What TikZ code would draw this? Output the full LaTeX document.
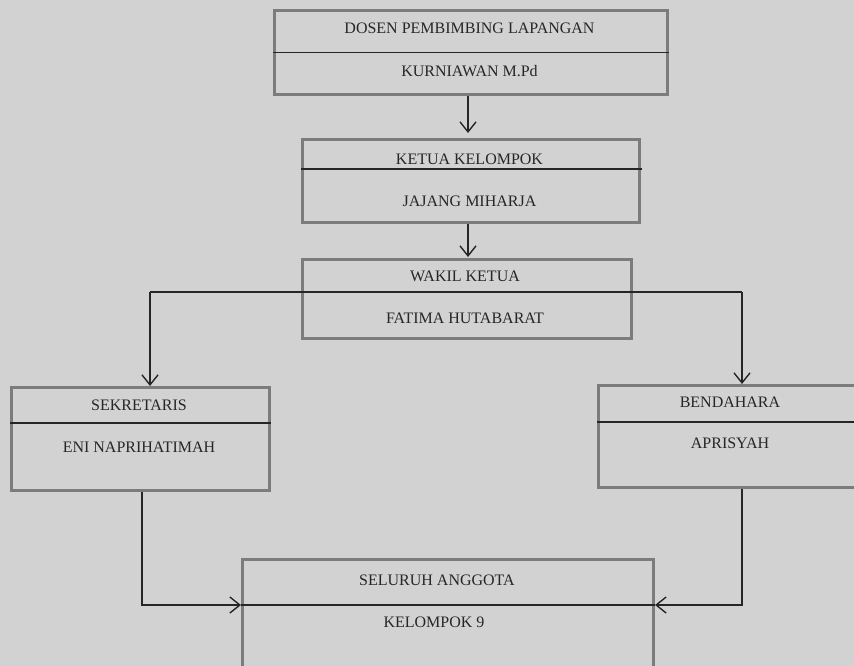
\documentclass[tikz,border=0pt]{standalone}
\usepackage{fontspec}
\setmainfont{Liberation Serif}
\usetikzlibrary{arrows.meta}
\definecolor{paper}{HTML}{D2D2D2}
\definecolor{frame}{HTML}{7C7C7C}
\definecolor{ink}{HTML}{262626}

\begin{document}
\begin{tikzpicture}[x=1pt, y=-1pt,
        box/.style={draw=frame, line width=3pt, inner sep=0pt, anchor=north west},
        lbl/.style={text=ink, font=\fontsize{16}{19}\selectfont, inner sep=0pt},
        conn/.style={draw=ink, line width=1.4pt},
        >={Straight Barb[length=10pt, width=16pt]}]

        \fill[paper] (0,0) rectangle (854,666);
        \clip (0,0) rectangle (854,666);

        \node[box, minimum width=393, minimum height=84] (dosen) at (273,9) {};
        \node[box, minimum width=337, minimum height=83] (ketua) at (301,138) {};
        \node[box, minimum width=329, minimum height=79] (wakil) at (301,258) {};
        \node[box, minimum width=258, minimum height=103] (sekretaris) at (10,386) {};
        \node[box, minimum width=273, minimum height=102] (bendahara) at (597,384) {};
        \node[box, minimum width=411, minimum height=122] (anggota) at (241,558) {};

        \node[lbl] (dosenA) at (469.5,28) {DOSEN PEMBIMBING LAPANGAN};
        \node[lbl] (dosenB) at (469.5,71) {KURNIAWAN M.Pd};
        \node[lbl] (ketuaA) at (469.5,159) {KETUA KELOMPOK};
        \node[lbl] (ketuaB) at (469.5,201) {JAJANG MIHARJA};
        \node[lbl] (wakilA) at (465,276) {WAKIL KETUA};
        \node[lbl] (wakilB) at (465,318) {FATIMA HUTABARAT};
        \node[lbl] (sekretarisA) at (139,405) {SEKRETARIS};
        \node[lbl] (sekretarisB) at (139,447) {ENI NAPRIHATIMAH};
        \node[lbl] (bendaharaA) at (730,402) {BENDAHARA};
        \node[lbl] (bendaharaB) at (730,443) {APRISYAH};
        \node[lbl] (anggotaA) at (437,580) {SELURUH ANGGOTA};
        \node[lbl] (anggotaB) at (434,622) {KELOMPOK 9};

        \draw[conn] (dosen.west) -- (dosen.east);
        \draw[conn] (301,169) -- (642,169);
        \draw[conn] (sekretaris.west |- 0,423) -- (sekretaris.east |- 0,423);
        \draw[conn] (bendahara.west |- 0,422) -- (bendahara.east |- 0,422);

        \draw[conn, ->] (dosen.south -| 468,0) -- (468,133);
        \draw[conn, ->] (ketua.south -| 468,0) -- (468,257);

        \coordinate (kiri) at (150,292);
        \coordinate (kanan) at (742,292);
        \draw[conn] (kiri) -- (kanan);
        \draw[conn, ->] (kiri) -- (kiri |- sekretaris.north);
        \draw[conn, ->] (kanan) -- (kanan |- bendahara.north);

        \coordinate (bawahkiri) at (142,605);
        \coordinate (bawahkanan) at (742,605);
        \draw[conn] (anggota.west |- bawahkiri) -- (anggota.east |- bawahkanan);
        \draw[conn, ->] (bawahkiri |- sekretaris.south) -- (bawahkiri) -- (anggota.west |- bawahkiri);
        \draw[conn, ->] (bawahkanan |- bendahara.south) -- (bawahkanan) -- (anggota.east |- bawahkanan);

    \end{tikzpicture}
\end{document}
